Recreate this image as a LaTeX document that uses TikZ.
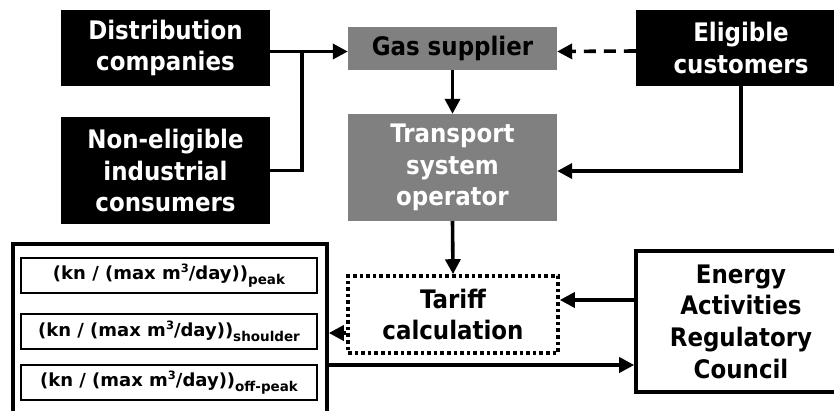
\documentclass[tikz,border=0pt]{standalone}
\usepackage{fontspec}
\setmainfont{DejaVu Sans}
\newfontfamily\labelfont{DejaVu Sans Condensed Bold}
\newfontfamily\widefont{DejaVu Sans}[BoldFont={DejaVu Sans Bold}]
\usetikzlibrary{arrows.meta}
\definecolor{boxgray}{HTML}{808080}
\tikzset{
  base/.style={align=center, inner sep=0pt, font=\labelfont\fontsize{25.5}{31.6}\selectfont},
  blackbox/.style={base, fill=black, text=white},
  graybox/.style={base, fill=boxgray},
  plainbox/.style={base, draw=black, line width=3.6pt, fill=white},
  dottedbox/.style={base, draw=black, line width=3.6pt, dash pattern=on 3.6pt off 3pt},
  ratebox/.style={draw=black, line width=1.4pt, minimum width=296pt, minimum height=35pt,
    inner sep=0pt, font=\widefont\fontsize{18}{20}\selectfont\bfseries},
  link/.style={line width=3.6pt, -{Triangle[length=15pt,width=15pt]}},
  wire/.style={line width=3.6pt}
}
\newcommand{\rate}[1]{(kn / (max m\raisebox{6.5pt}{\fontsize{11.5}{11.5}\selectfont 3}/day))\raisebox{-5pt}{\fontsize{13.5}{13.5}\selectfont #1}}
\begin{document}
\begin{tikzpicture}[x=1pt,y=1pt]
\useasboundingbox (0,0) rectangle (834,-410);
% suppliers and customers
\node[blackbox, minimum width=209pt, minimum height=76pt] (dist) at (165.5,-48) {Distribution\\companies};
\node[blackbox, minimum width=209pt, minimum height=107pt] (nonelig) at (165.5,-170.5) {Non-eligible\\industrial\\consumers};
\node[blackbox, minimum width=210pt, minimum height=76pt] (elig) at (741,-48) {Eligible\\customers};
% gas chain
\node[graybox, minimum width=209pt, minimum height=43pt] (gas) at (452.5,-48.5) {Gas supplier};
\node[graybox, text=white, minimum width=209pt, minimum height=107pt] (tso) at (452.5,-167.5) {Transport\\system\\operator};
\node[dottedbox, minimum width=210pt, minimum height=77pt] (tariff) at (453,-314.5) {Tariff\\calculation};
\node[plainbox, minimum width=210pt, minimum height=141pt] (erc) at (741,-321.5) {Energy\\Activities\\Regulatory\\Council};
% tariff panel
\node[draw=black, line width=3.6pt, minimum width=314pt, minimum height=186pt, inner sep=0pt] (panel) at (170,-337) {};
\node[ratebox] (peak) at (169,-275.5) {\rate{peak}};
\node[ratebox] (shoulder) at (169,-331.5) {\rate{shoulder}};
\node[ratebox] (offpeak) at (169,-382.5) {\rate{off-peak}};
% connectors
\coordinate (join) at (302,-51.5);
\draw[link] ([yshift=-3.5pt]dist.east) -- ([yshift=-3pt]gas.west);
\draw[wire] (nonelig.east) -| (join);
\draw[link, dash pattern=on 12pt off 8pt] ([yshift=-3pt]elig.west) -- ([yshift=-3pt]gas.east);
\draw[link] (gas.south) -- (tso.north);
\draw[link] (elig.south) |- ([yshift=-3.5pt]tso.east);
\draw[link] (tso.south) -- (tariff.north);
\draw[link] ([yshift=21.5pt]erc.west) -- ([yshift=21.5pt]erc.west -| tariff.east);
\draw[link] ([yshift=-18.5pt]tariff.west) -- ([yshift=-18.5pt]tariff.west -| panel.east);
\draw[link] (panel.east |- 0,-365) -- (erc.west |- 0,-365);
\end{tikzpicture}
\end{document}
